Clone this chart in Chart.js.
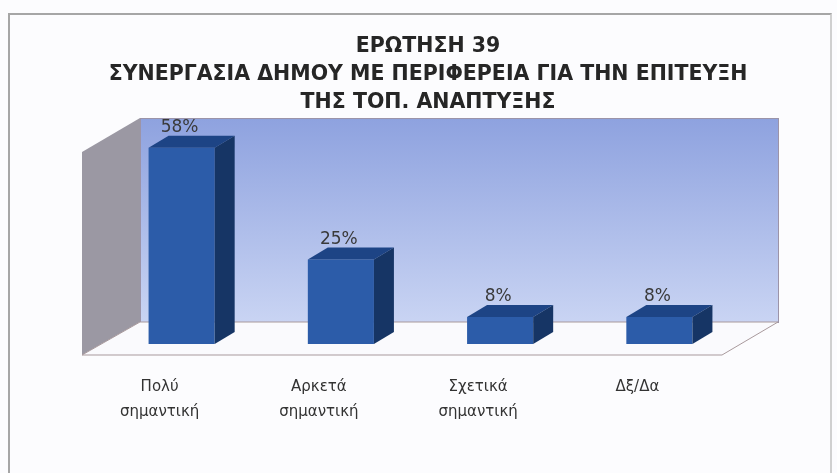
<!DOCTYPE html>
<html>
<head>
<meta charset="utf-8">
<script src="https://cdn.jsdelivr.net/npm/chart.js@4.4.1/dist/chart.umd.min.js"></script>
<style>
  body { margin: 0; background: #fcfcfe; }
  #frame {
    position: absolute; left: 8px; top: 13px; width: 820px; height: 470px;
    border: 2px solid #a6a6a6; border-bottom: none; border-right-color: #d0d0d0;
  }
  #chart { position: absolute; left: 0; top: 0; }
</style>
</head>
<body>
<div id="frame"></div>
<canvas id="chart" width="837" height="473"></canvas>
<script>
  // data
  const titleLines = [
    "ΕΡΩΤΗΣΗ 39",
    "ΣΥΝΕΡΓΑΣΙΑ ΔΗΜΟΥ ΜΕ ΠΕΡΙΦΕΡΕΙΑ ΓΙΑ ΤΗΝ ΕΠΙΤΕΥΞΗ",
    "ΤΗΣ ΤΟΠ. ΑΝΑΠΤΥΞΗΣ"
  ];
  const categories = [
    ["Πολύ", "σημαντική"],
    ["Αρκετά", "σημαντική"],
    ["Σχετικά", "σημαντική"],
    "Δξ/Δα"
  ];
  const percentages = [58, 25, 8, 8];
  const axisMax = 65;

  const frontColor = "#2c5ca9";
  const topColor = "#1d4485";
  const sideColor = "#163565";

  // back wall, side wall and floor of the 3d box
  const wallsPlugin = {
    id: "walls",
    beforeDatasetsDraw(chart) {
      const a = chart.chartArea;
      const ctx = chart.ctx;
      const bx1 = a.left + 38, bx2 = a.right + 39;
      const by1 = a.top - 6, by2 = a.bottom - 22;
      const fx1 = a.left - 20, fx2 = a.right - 17, fy = a.bottom + 11;

      ctx.save();
      const grad = ctx.createLinearGradient(0, by1, 0, by2);
      grad.addColorStop(0, "#8ea2df");
      grad.addColorStop(1, "#c9d4f3");
      ctx.fillStyle = grad;
      ctx.fillRect(bx1, by1, bx2 - bx1, by2 - by1);
      ctx.strokeStyle = "#9c94a8";
      ctx.lineWidth = 1;
      ctx.strokeRect(bx1 + 0.5, by1 + 0.5, bx2 - bx1, by2 - by1);

      // left wall
      ctx.beginPath();
      ctx.moveTo(fx1, by1 + 34);
      ctx.lineTo(bx1, by1);
      ctx.lineTo(bx1, by2);
      ctx.lineTo(fx1, fy);
      ctx.closePath();
      ctx.fillStyle = "#9b98a3";
      ctx.fill();

      // floor
      ctx.beginPath();
      ctx.moveTo(fx1, fy);
      ctx.lineTo(bx1, by2);
      ctx.lineTo(bx2, by2);
      ctx.lineTo(fx2, fy);
      ctx.closePath();
      ctx.fillStyle = "#fafafd";
      ctx.fill();
      ctx.strokeStyle = "#a8999c";
      ctx.stroke();
      ctx.restore();
    }
  };

  // top and side faces of each bar, plus the value labels
  const boxesPlugin = {
    id: "boxes",
    afterDatasetsDraw(chart) {
      const ctx = chart.ctx;
      const dx = 20, dy = -12;
      chart.getDatasetMeta(0).data.forEach((bar, i) => {
        const left = bar.x - bar.width / 2;
        const right = bar.x + bar.width / 2;
        ctx.save();
        ctx.fillStyle = topColor;
        ctx.beginPath();
        ctx.moveTo(left, bar.y);
        ctx.lineTo(left + dx, bar.y + dy);
        ctx.lineTo(right + dx, bar.y + dy);
        ctx.lineTo(right, bar.y);
        ctx.closePath();
        ctx.fill();

        ctx.fillStyle = sideColor;
        ctx.beginPath();
        ctx.moveTo(right, bar.y);
        ctx.lineTo(right + dx, bar.y + dy);
        ctx.lineTo(right + dx, bar.base + dy);
        ctx.lineTo(right, bar.base);
        ctx.closePath();
        ctx.fill();

        ctx.fillStyle = "#3a3a3a";
        ctx.font = "17px 'DejaVu Sans'";
        ctx.textAlign = "center";
        ctx.textBaseline = "middle";
        ctx.fillText(percentages[i] + "%", bar.x - 2, bar.y - 20);
        ctx.restore();
      });
    }
  };

  const hiddenAxis = (width, position) => ({
    position: position,
    min: 0,
    max: axisMax,
    ticks: { display: false },
    grid: { display: false },
    border: { display: false },
    afterFit: function (scale) { scale.width = width; }
  });

  new Chart(document.getElementById("chart").getContext("2d"), {
    type: "bar",
    data: {
      labels: categories,
      datasets: [{
        data: percentages,
        backgroundColor: frontColor,
        barPercentage: 0.415,
        categoryPercentage: 1
      }]
    },
    options: {
      responsive: false,
      animation: false,
      layout: { padding: { left: 36, right: 17, top: 33, bottom: 0 } },
      plugins: {
        legend: { display: false },
        tooltip: { enabled: false },
        title: {
          display: true,
          text: titleLines,
          color: "#262626",
          font: { family: "'DejaVu Sans'", size: 20.5, weight: "bold", lineHeight: 1.35 },
          padding: { top: 0, bottom: 8 }
        }
      },
      scales: {
        x: {
          grid: { display: false },
          border: { display: false },
          ticks: {
            color: "#333333",
            font: { family: "'DejaVu Sans'", size: 15, lineHeight: 1.65 },
            padding: 23,
            labelOffset: -22,
            maxRotation: 0,
            autoSkip: false
          },
          afterFit: function (scale) { scale.height = 129; }
        },
        y: hiddenAxis(66, "left"),
        y2: hiddenAxis(81, "right")
      }
    },
    plugins: [wallsPlugin, boxesPlugin]
  });
</script>
</body>
</html>
